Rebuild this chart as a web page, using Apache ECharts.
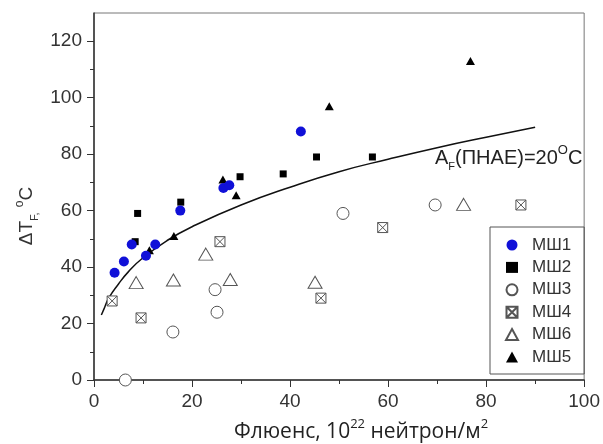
<!DOCTYPE html>
<html>
<head>
<meta charset="utf-8">
<script src="https://cdn.jsdelivr.net/npm/echarts@6/dist/echarts.min.js"></script>
<style>
  html, body { margin: 0; padding: 0; background: #fff; }
  #chart { width: 603px; height: 444px; }
</style>
</head>
<body>
<div id="chart"></div>
<script>
// values: [fluence, deltaT]
var msh1 = [[4.2, 38], [6.1, 42], [7.7, 48], [10.6, 44], [12.5, 48], [17.6, 60], [26.4, 68], [27.6, 69], [42.2, 88]];
var msh2 = [[8.4, 49], [8.9, 59], [17.7, 63], [29.8, 72], [38.6, 73], [45.4, 79], [56.8, 79]];
var msh3 = [[6.4, 0], [16.1, 17], [24.7, 32], [25.1, 24], [50.8, 59], [69.6, 62]];
var msh4 = [[3.7, 28], [9.6, 22], [25.7, 49], [46.3, 29], [58.9, 54], [87.1, 62]];
var msh6 = [[8.6, 34.5], [16.2, 35.4], [22.8, 44.6], [27.8, 35.6], [45.1, 34.6], [75.4, 62.2]];
var msh5 = [[11.3, 46], [16.3, 51], [26.3, 71], [29.0, 65.4], [48.0, 97], [76.8, 113]];

// fitted curve
var fitCurve = [[1.5, 23], [2, 25], [3, 29], [5, 34], [7, 38.3], [10, 43.3], [15, 49.5], [20, 54.3],
  [30, 62], [40, 68.3], [50, 73.8], [60, 78.2], [70, 82.3], [80, 86], [90, 89.5]];

var yTicks = [0, 20, 40, 60, 80, 100, 120];
var yMinorTicks = [10, 30, 50, 70, 90, 110];
var seriesNames = ['МШ1', 'МШ2', 'МШ3', 'МШ4', 'МШ6', 'МШ5'];

var chart = echarts.init(document.getElementById('chart'));

var font = 'Liberation Sans, Arial, sans-serif';
var openStyle = { color: '#fff', borderColor: '#555', borderWidth: 1, opacity: 1 };
var crossBox = 'path://M0,0H10V10H0Z M0,0L10,10 M10,0L0,10';

var option = {
  animation: false,
  textStyle: { fontFamily: font },
  grid: {
    left: 94, right: 15, top: 13, bottom: 64,
    show: true, borderColor: '#777', borderWidth: 1
  },
  legend: {
    orient: 'vertical',
    left: 490,
    top: 227,
    data: seriesNames,
    borderColor: '#555',
    borderWidth: 1,
    padding: [9, 13, 8, 15],
    itemGap: 4.4,
    itemWidth: 12,
    itemHeight: 11,
    textStyle: { fontSize: 17, color: '#333', lineHeight: 18, fontFamily: font, padding: [0, 0, 0, 9] }
  },
  xAxis: {
    type: 'value',
    min: 0, max: 100, interval: 20,
    axisLine: { lineStyle: { color: '#333', width: 1.5 } },
    axisTick: { length: 7, lineStyle: { color: '#333' } },
    minorTick: { show: true, splitNumber: 2, length: 4, lineStyle: { color: '#333' } },
    axisLabel: { fontSize: 19, color: '#333', margin: 12 },
    splitLine: { show: false }
  },
  yAxis: [{
    type: 'value',
    min: 0, max: 130, interval: 20,
    axisLine: { lineStyle: { color: '#333', width: 1.5 } },
    axisTick: { length: 7, lineStyle: { color: '#333' }, customValues: yTicks },
    axisLabel: { fontSize: 19, color: '#333', margin: 12, customValues: yTicks },
    splitLine: { show: false }
  }, {
    type: 'value',
    position: 'left',
    min: 0, max: 130, interval: 10,
    axisLine: { show: false },
    axisTick: { length: 4, lineStyle: { color: '#333' }, customValues: yMinorTicks },
    axisLabel: { show: false },
    splitLine: { show: false }
  }],
  graphic: [{
    type: 'text',
    x: 27, y: 216,
    rotation: Math.PI / 2,
    style: {
      text: '{a|ΔT}{s|F,}{a| }{o|o}{a|C}',
      align: 'center', verticalAlign: 'middle',
      rich: {
        a: { fontSize: 19, lineHeight: 26, fill: '#333', fontFamily: font },
        s: { fontSize: 11, lineHeight: 12, verticalAlign: 'bottom', fill: '#333', fontFamily: font },
        o: { fontSize: 12, lineHeight: 12, verticalAlign: 'top', fill: '#333', fontFamily: font }
      }
    }
  }, {
    type: 'text',
    x: 361, y: 432,
    style: {
      text: '{t|Флюенс, 10}{s|22}{t| нейтрон/м}{s|2}',
      align: 'center', verticalAlign: 'middle',
      rich: {
        t: { fontSize: 21, lineHeight: 28, fill: '#222', fontFamily: 'Open Sans' },
        s: { fontSize: 13, lineHeight: 13, verticalAlign: 'top', fill: '#222', fontFamily: 'Open Sans' }
      }
    }
  }, {
    type: 'text',
    x: 435, y: 158,
    style: {
      text: '{a|A}{s|F}{a|(ПНАЕ)=20}{o|O}{a|C}',
      align: 'left', verticalAlign: 'middle',
      rich: {
        a: { fontSize: 20, lineHeight: 28, fill: '#222', fontFamily: font },
        s: { fontSize: 11, lineHeight: 12, verticalAlign: 'bottom', fill: '#222', fontFamily: font },
        o: { fontSize: 13, lineHeight: 12, verticalAlign: 'top', fill: '#222', fontFamily: font }
      }
    }
  }],
  series: [
    {
      type: 'line', data: fitCurve, smooth: true, showSymbol: false,
      lineStyle: { color: '#111', width: 1.5 }, z: 1, silent: true
    },
    { name: 'МШ1', type: 'scatter', data: msh1, symbol: 'circle', symbolSize: 10, itemStyle: { color: '#1010d8', opacity: 1 }, z: 4 },
    { name: 'МШ2', type: 'scatter', data: msh2, symbol: 'rect', symbolSize: 7, itemStyle: { color: '#000', opacity: 1 }, z: 3 },
    { name: 'МШ3', type: 'scatter', data: msh3, symbol: 'circle', symbolSize: 12, itemStyle: openStyle, z: 2 },
    { name: 'МШ4', type: 'scatter', data: msh4, symbol: crossBox, symbolSize: 10, itemStyle: openStyle, z: 2 },
    { name: 'МШ6', type: 'scatter', data: msh6, symbol: 'triangle', symbolSize: [14, 12], itemStyle: openStyle, z: 2 },
    { name: 'МШ5', type: 'scatter', data: msh5, symbol: 'triangle', symbolSize: [9, 8], itemStyle: { color: '#000', opacity: 1 }, z: 3 }
  ]
};

chart.setOption(option);
</script>
</body>
</html>
